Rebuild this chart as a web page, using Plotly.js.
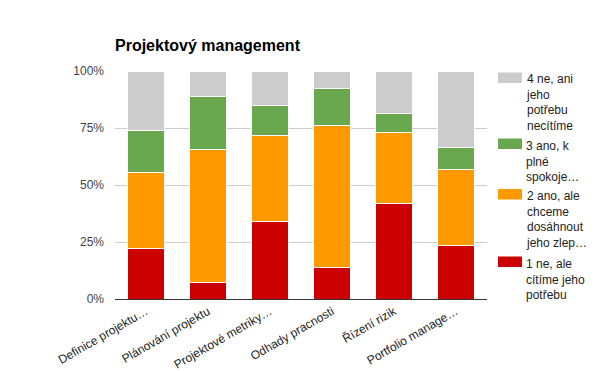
<!DOCTYPE html>
<html><head><meta charset="utf-8">
<script src="https://cdn.plot.ly/plotly-3.0.1.min.js"></script>
<style>body{margin:0;background:#fff}#c{width:600px;height:371px}</style>
</head><body><div id="c"></div>
<script>
const categories = ["Definice projektu…","Plánování projektu","Projektové metriky…","Odhady pracnosti","Řízení rizik","Portfolio manage…"];
const seriesNames = ["1 ne, ale<br>cítíme jeho<br>potřebu","2 ano, ale<br>chceme<br>dosáhnout<br>jeho zlep…","3 ano, k<br>plné<br>spokoje…","4 ne, ani<br>jeho<br>potřebu<br>necítíme"];
const s1 = [22.2, 7.3, 34.1, 13.9, 41.8, 23.5];
const s2 = [33.3, 58.4, 37.5, 62.1, 31.3, 33.4];
const s3 = [18.4, 23.1, 13.2, 16.2, 8.3, 9.5];
const s4 = [26.1, 11.2, 15.2, 7.8, 18.6, 33.6];
const colors = ["#cc0000","#ff9900","#6aa84f","#cccccc"];
const tickVals = [0, 25, 50, 75, 100];
const tickText = ["0%","25%","50%","75%","100%"];

const all = [s1,s2,s3,s4];
const traces = all.map((v,i)=>({
  type:"bar", x:categories, y:v, name:seriesNames[i],
  marker:{color:colors[i], line:{color:"#fff", width:1}},
  showlegend:false, hoverinfo:"none"
}));

// custom legend (top to bottom: series 4,3,2,1)
const legTop = [72.5, 138.5, 189, 256.5]; // px from top
const shapes = [], annotations = [];
[3,2,1,0].forEach((si,k)=>{
  const y0 = legTop[k];
  shapes.push({type:"rect", xref:"paper", yref:"paper",
    x0:(498-115)/372, x1:(522-115)/372,
    y0:(299-(y0+10.5))/228, y1:(299-y0)/228,
    fillcolor:colors[si], line:{width:0}});
  annotations.push({xref:"paper", yref:"paper", x:(524-115)/372, y:(299-(y0-2))/228,
    xanchor:"left", yanchor:"top", align:"left", showarrow:false,
    text:seriesNames[si], font:{family:"Arial, Liberation Sans, sans-serif", size:12, color:"#222"}});
});

const layout = {
  width:600, height:371,
  margin:{l:115, r:113, t:71, b:72},
  paper_bgcolor:"#fff", plot_bgcolor:"#fff",
  barmode:"stack", bargap:0.39,
  title:{text:"<b>Projektový management</b>", x:115/600, xanchor:"left", y:1-45/371, yanchor:"middle",
    font:{family:"Arial, Liberation Sans, sans-serif", size:16, color:"#000"}},
  font:{family:"Arial, Liberation Sans, sans-serif", size:12, color:"#444"},
  xaxis:{tickangle:-30, showgrid:false, showline:true, linecolor:"#333", linewidth:1, ticks:"",
    tickfont:{size:12, color:"#222"}, fixedrange:true},
  yaxis:{range:[0,100], tickvals:tickVals, ticktext:tickText, showgrid:true, gridcolor:"#cccccc",
    zeroline:false, ticks:"", ticklabelstandoff:10, tickfont:{size:12, color:"#444"}, fixedrange:true},
  shapes:shapes, annotations:annotations
};
Plotly.newPlot("c", traces, layout, {displayModeBar:false, staticPlot:true});
</script></body></html>
